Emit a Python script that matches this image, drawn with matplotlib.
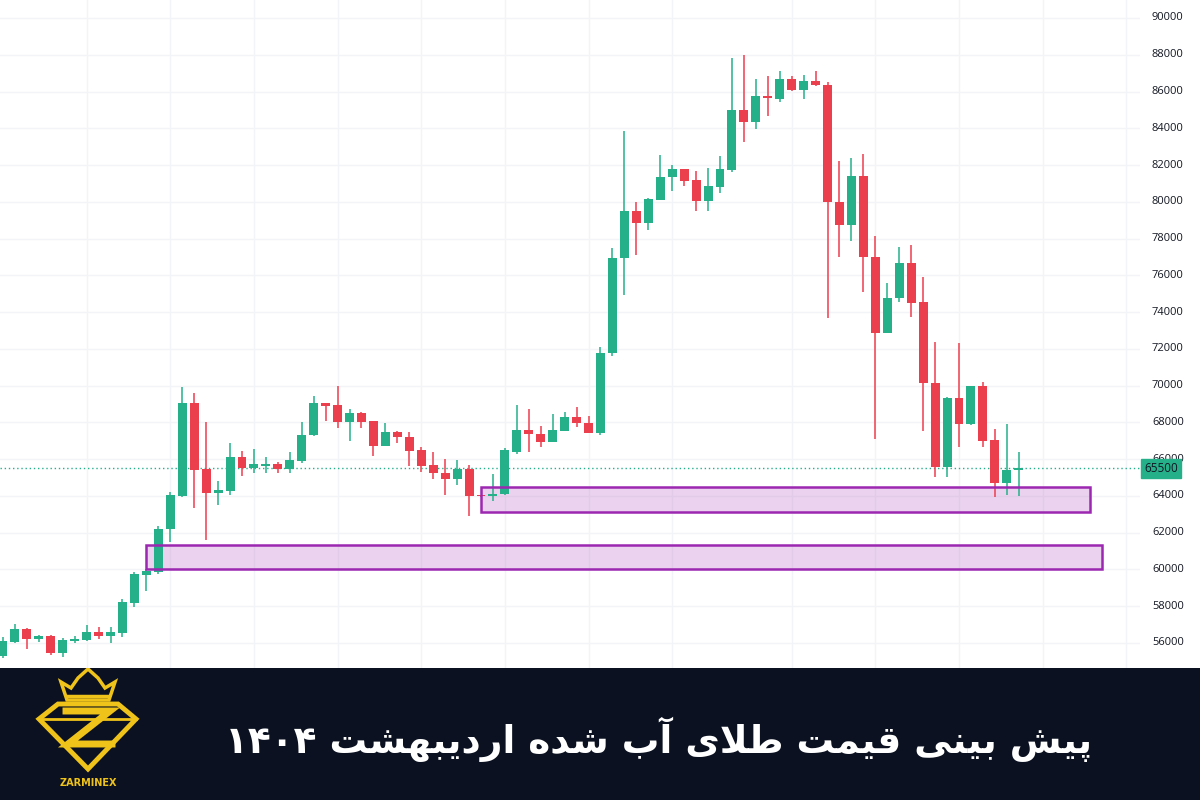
import matplotlib
matplotlib.use("Agg")
import matplotlib.pyplot as plt
from matplotlib.patches import Rectangle, Polygon
import numpy as np

# ---------------- data ----------------
opens = [55311, 56073, 56762, 56236, 56381, 55475, 56127, 56164, 56581, 56381,
         56527, 58194, 59717, 59880, 62182, 63995, 69035, 65445, 64176, 64285,
         66098, 65536, 65645, 65717, 65445, 65917, 67295, 69034, 68944, 68037,
         68490, 68055, 66731, 67456, 67184, 66495, 65679, 65226, 64935, 65443,
         64047, 63974, 64083, 66405, 67583, 67366, 66949, 67547, 68291, 67946,
         67402, 71747, 76965, 79474, 78819, 80110, 81328, 81782, 81183, 80055,
         80819, 81746, 85000, 84328, 85746, 85600, 86691, 86055, 86564, 86364,
         79964, 78747, 81419, 77019, 72874, 74783, 76651, 74529, 70122, 65551,
         69342, 67891, 69977, 67039, 64717, 65406]
highs = [56345, 57034, 56800, 56417, 56417, 56272, 56381, 56961, 56870, 56870,
         58376, 59880, 60007, 62364, 64231, 69942, 69616, 68003, 64829, 66896,
         66461, 66534, 66135, 65862, 66406, 68039, 69434, 69071, 69978, 68708,
         68581, 68080, 67982, 67547, 67493, 66677, 66405, 66006, 65951, 65679,
         64060, 65189, 66586, 68944, 68708, 67801, 68454, 68581, 68853, 68345,
         72110, 77510, 83873, 80001, 80183, 82564, 82001, 81800, 81692, 81819,
         82510, 87818, 88000, 86655, 86836, 87091, 86836, 86873, 87091, 86509,
         82200, 82382, 82601, 78146, 75565, 77565, 77649, 75926, 72389, 69396,
         72335, 69990, 70213, 67619, 67909, 66404]
lows = [55166, 55982, 55692, 56073, 55330, 55257, 55982, 56127, 56236, 55982,
        56345, 57977, 58847, 59753, 61511, 63959, 63325, 61602, 63506, 64049,
        65083, 65228, 65264, 65264, 65264, 65808, 67277, 68091, 67674, 67003,
        67674, 66187, 66720, 66894, 65643, 65316, 64899, 64047, 64591, 62904,
        63960, 63738, 64070, 66278, 66368, 66677, 66940, 67540, 67729, 67420,
        67311, 71602, 74928, 77110, 78474, 80100, 80601, 80873, 79510, 79510,
        80474, 81600, 83237, 83964, 84691, 85418, 86050, 85600, 86291, 73692,
        77019, 77874, 75110, 67075, 72840, 74566, 73749, 67546, 65007, 65007,
        66640, 67880, 66640, 63919, 64046, 63992]
closes = [56127, 56744, 56236, 56381, 55475, 56164, 56236, 56581, 56381, 56581,
          58249, 59753, 59935, 62182, 64049, 69035, 65409, 64176, 64321, 66098,
          65536, 65717, 65717, 65445, 65953, 67313, 69071, 68907, 68037, 68490,
          68037, 66731, 67456, 67184, 66459, 65643, 65226, 64935, 65443, 64010,
          63975, 64101, 66495, 67583, 67348, 66949, 67583, 68291, 67946, 67438,
          71783, 76965, 79474, 78819, 80146, 81364, 81782, 81146, 80055, 80873,
          81782, 85000, 84328, 85746, 85637, 86655, 86055, 86564, 86327, 79964,
          78747, 81419, 77019, 72874, 74783, 76692, 74511, 70122, 65551, 69342,
          67891, 69977, 67002, 64717, 65406, 65500]

last_price = 65500
price_ticks = [56000, 58000, 60000, 62000, 64000, 66000, 68000, 70000, 72000,
               74000, 76000, 78000, 80000, 82000, 84000, 86000, 88000, 90000]
# zones: (start bar, end bar, low, high)
zone_starts = [40, 12]
zone_ends = [91, 92]
zone_lows = [63100, 60000]
zone_highs = [64480, 61330]
vgrid_bars = [7, 14, 21, 28, 35, 42, 49, 56, 66, 73, 80, 87, 94]

title_text = "پیش بینی قیمت طلای آب شده اردیبهشت"
title_year = "\u06F1\u06F4\u06F0\u06F4"
brand = "ZARMINEX"

# ---------------- Persian shaping ----------------
FORMS = {
    '\u0627': ('\uFE8D', '\uFE8E', None, None),
    '\u0622': ('\uFE81', '\uFE82', None, None),
    '\u0628': ('\uFE8F', '\uFE90', '\uFE91', '\uFE92'),
    '\u067E': ('\uFB56', '\uFB57', '\uFB58', '\uFB59'),
    '\u062A': ('\uFE95', '\uFE96', '\uFE97', '\uFE98'),
    '\u062F': ('\uFEA9', '\uFEAA', None, None),
    '\u0631': ('\uFEAD', '\uFEAE', None, None),
    '\u0634': ('\uFEB5', '\uFEB6', '\uFEB7', '\uFEB8'),
    '\u0637': ('\uFEC1', '\uFEC2', '\uFEC3', '\uFEC4'),
    '\u0642': ('\uFED5', '\uFED6', '\uFED7', '\uFED8'),
    '\u0644': ('\uFEDD', '\uFEDE', '\uFEDF', '\uFEE0'),
    '\u0645': ('\uFEE1', '\uFEE2', '\uFEE3', '\uFEE4'),
    '\u0646': ('\uFEE5', '\uFEE6', '\uFEE7', '\uFEE8'),
    '\u0647': ('\uFEE9', '\uFEEA', '\uFEEB', '\uFEEC'),
    '\u06CC': ('\uFBFC', '\uFBFD', '\uFBFE', '\uFBFF'),
}


def shape(s):
    out = []
    n = len(s)
    i = 0
    while i < n:
        c = s[i]
        if c not in FORMS:
            out.append(c)
            i += 1
            continue
        prev = s[i - 1] if i > 0 else None
        joins_prev = prev in FORMS and FORMS[prev][2] is not None
        if c == '\u0644' and i + 1 < n and s[i + 1] in ('\u0627', '\u0622'):
            lig = ('\uFEFB', '\uFEFC') if s[i + 1] == '\u0627' else ('\uFEF5', '\uFEF6')
            out.append(lig[1] if joins_prev else lig[0])
            i += 2
            continue
        nxt = s[i + 1] if i + 1 < n else None
        joins_next = FORMS[c][2] is not None and nxt in FORMS
        iso, fin, ini, med = FORMS[c]
        if joins_prev and joins_next:
            g = med
        elif joins_prev:
            g = fin
        elif joins_next:
            g = ini
        else:
            g = iso
        out.append(g)
        i += 1
    return ''.join(out)


visual_title = title_year + " " + shape(title_text)[::-1]

# ---------------- figure ----------------
W, H = 1200, 800
fig = plt.figure(figsize=(12, 8), dpi=100)
fig.patch.set_facecolor("white")

plot_right = 1140
banner_top = 668
ax = fig.add_axes([0, (H - banner_top) / H, plot_right / W, banner_top / H])
ax.set_facecolor("white")

UP = "#25b08a"
DOWN = "#ec3f4e"
n = len(opens)
x = np.arange(n)
o = np.array(opens, float)
c = np.array(closes, float)
hi = np.array(highs, float)
lo = np.array(lows, float)
cols = [UP if cc >= oo else DOWN for oo, cc in zip(o, c)]

ax.vlines(x, lo, hi, colors=cols, linewidth=1.1, zorder=3)
bottoms = np.minimum(o, c)
heights = np.maximum(np.abs(c - o), 70)
ax.bar(x, heights, bottom=bottoms, width=0.75, color=cols, linewidth=0, zorder=4)

# zones
for s_, e_, l_, h_ in zip(zone_starts, zone_ends, zone_lows, zone_highs):
    ax.add_patch(Rectangle((s_, l_), e_ - s_, h_ - l_, facecolor="#9c27b0",
                           alpha=0.2, edgecolor="none", zorder=2))
    ax.add_patch(Rectangle((s_, l_), e_ - s_, h_ - l_, facecolor="none",
                           edgecolor="#9c27b0", linewidth=1.8, zorder=5))

# last price line
ax.axhline(last_price, color=UP, linestyle=(0, (1, 2)), linewidth=1, zorder=2)

# grid
GRID = "#f3f4f7"
for p in price_ticks:
    ax.axhline(p, color=GRID, linewidth=1, zorder=0)
for b in vgrid_bars:
    ax.axvline(b, color=GRID, linewidth=1, zorder=0)

x0 = -0.25
x1 = (plot_right - 3) / 11.95
ax.set_xlim(x0, x1)
ax.set_ylim(54633, 90979)
for sp in ax.spines.values():
    sp.set_visible(False)
ax.set_xticks([])
ax.set_yticks([])

# price labels (right scale)
for p in price_ticks:
    ax.text(1.0 + 12 / plot_right, p, f"{p}", transform=ax.get_yaxis_transform(),
            ha="left", va="center", fontsize=8, color="#131722",
            family="Open Sans", clip_on=False, zorder=6)

# last price box
ax.text(1.0 + 4 / plot_right, last_price, f"{last_price}",
        transform=ax.get_yaxis_transform(), ha="left", va="center",
        fontsize=8.5, color="#131722", family="Open Sans", clip_on=False, zorder=8,
        bbox=dict(boxstyle="square,pad=0.25", facecolor=UP, edgecolor=UP))

# ---------------- banner ----------------
bx = fig.add_axes([0, 0, 1, (H - banner_top) / H])
bx.set_xlim(0, W)
bx.set_ylim(H, banner_top)
bx.set_facecolor("#0b1120")
bx.axis("off")
bx.add_patch(Rectangle((0, banner_top), W, H - banner_top, facecolor="#0b1120",
                       edgecolor="none", zorder=0))

GOLD = "#efc31a"
# crown
crown = [(67, 700), (61, 682), (71, 688), (78, 678), (88, 669), (98, 678),
         (105, 688), (115, 682), (109, 700)]
bx.add_patch(Polygon(crown, closed=True, facecolor="none", edgecolor=GOLD,
                     linewidth=2.5, zorder=2))
bx.plot([68, 108], [696, 696], color=GOLD, linewidth=2.5, zorder=2)
# diamond
diamond = [(58, 704), (118, 704), (136, 719), (88, 769), (39, 719)]
bx.add_patch(Polygon(diamond, closed=True, facecolor="none", edgecolor=GOLD,
                     linewidth=3.5, joinstyle="miter", zorder=2))
bx.plot([39, 136], [719, 719], color=GOLD, linewidth=2, zorder=2)
# Z
bx.plot([66, 110, 68, 112], [711, 711, 744, 744], color=GOLD, linewidth=5,
        solid_joinstyle="miter", zorder=3)
bx.text(88, 783, brand, ha="center", va="center", fontsize=7, fontweight="bold",
        color=GOLD, family="DejaVu Sans", zorder=3)

bx.text(659, 739, visual_title, ha="center", va="center", fontsize=27,
        fontweight="bold", color="white", family=["DejaVu Sans"], zorder=3)

fig.savefig("out.png", dpi=100, facecolor=fig.get_facecolor())
